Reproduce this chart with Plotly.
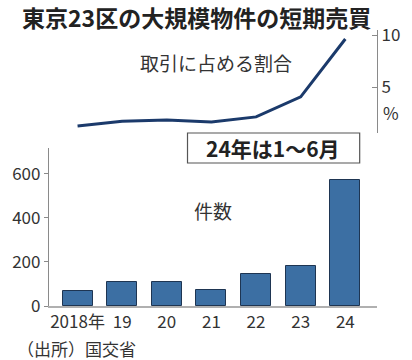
import plotly.graph_objects as go

years = ["2018年", "19", "20", "21", "22", "23", "24"]
counts = [67, 108, 110, 73, 146, 180, 573]
share = [1.25, 1.7, 1.83, 1.64, 2.13, 4.06, 9.63]

W, H = 412, 360
L, R, T, B = 39, 32, 30, 54
PW, PH = W - L - R, H - T - B

def px(x):
    return (x - L) / PW

def py(y):
    return (H - B - y) / PH

FONT = "Noto Sans CJK JP"
DARK = "#333333"
AX = "#8a8a8a"

fig = go.Figure()
fig.add_trace(go.Bar(
    x=list(range(len(years))), y=counts, width=0.67,
    marker=dict(color="#3c6fa3", line=dict(color="#1e3552", width=1)),
    xaxis="x", yaxis="y", showlegend=False,
))
fig.add_trace(go.Scatter(
    x=list(range(len(years))), y=share, mode="lines",
    line=dict(color="#1b3a6b", width=3),
    xaxis="x2", yaxis="y2", showlegend=False,
))

xr = [-0.64, 6.71]
fig.update_layout(
    width=W, height=H,
    margin=dict(l=L, r=R, t=T, b=B),
    plot_bgcolor="white", paper_bgcolor="white",
    font=dict(family=FONT, color=DARK, size=15),
    xaxis=dict(range=xr, tickvals=list(range(len(years))), ticktext=years,
               showline=True, linecolor="#b0b0b0", linewidth=1.5, ticks="",
               showgrid=False, zeroline=False, anchor="y",
               tickfont=dict(size=17, color=DARK)),
    yaxis=dict(domain=[0, py(148)], range=[0, 717], tickvals=[0, 200, 400, 600],
               showline=True, linecolor=AX, linewidth=1.2, ticks="outside",
               ticklen=4, tickcolor=AX, showgrid=False, zeroline=False,
               tickfont=dict(size=17, color=DARK)),
    xaxis2=dict(range=xr, visible=False, anchor="y2"),
    yaxis2=dict(domain=[py(133), 1], range=[0.58, 10.5], side="right",
                anchor="x2", tickvals=[5, 10], showline=True, linecolor=AX,
                linewidth=1.2, ticks="inside", ticklen=5, tickcolor=AX,
                showgrid=False, zeroline=False,
                tickfont=dict(size=17, color=DARK)),
    bargap=0,
)

fig.add_shape(type="rect", xref="paper", yref="paper",
              x0=px(183), x1=px(362), y0=py(163), y1=py(133),
              line=dict(color="#555555", width=1.2), fillcolor="white")

ann = [
    dict(text="<b>東京23区の大規模物件の短期売買</b>", x=px(9), y=py(17),
         xanchor="left", font=dict(size=23, color="#222222")),
    dict(text="取引に占める割合", x=px(213), y=py(63), font=dict(size=19)),
    dict(text="%", x=px(395), y=py(112), font=dict(size=17)),
    dict(text="<b>24年は1～6月</b>", x=px(272), y=py(148), font=dict(size=21, color="#222222")),
    dict(text="件数", x=px(210), y=py(210), font=dict(size=19)),
    dict(text="（出所）国交省", x=px(4), y=py(348), xanchor="left", font=dict(size=17)),
]
for a in ann:
    a.setdefault("xanchor", "center")
    fig.add_annotation(xref="paper", yref="paper", showarrow=False,
                       yanchor="middle", **a)

fig.write_html("out.html", config={"displayModeBar": False},
               post_script="document.body.style.margin='0';document.body.style.overflow='hidden';")
